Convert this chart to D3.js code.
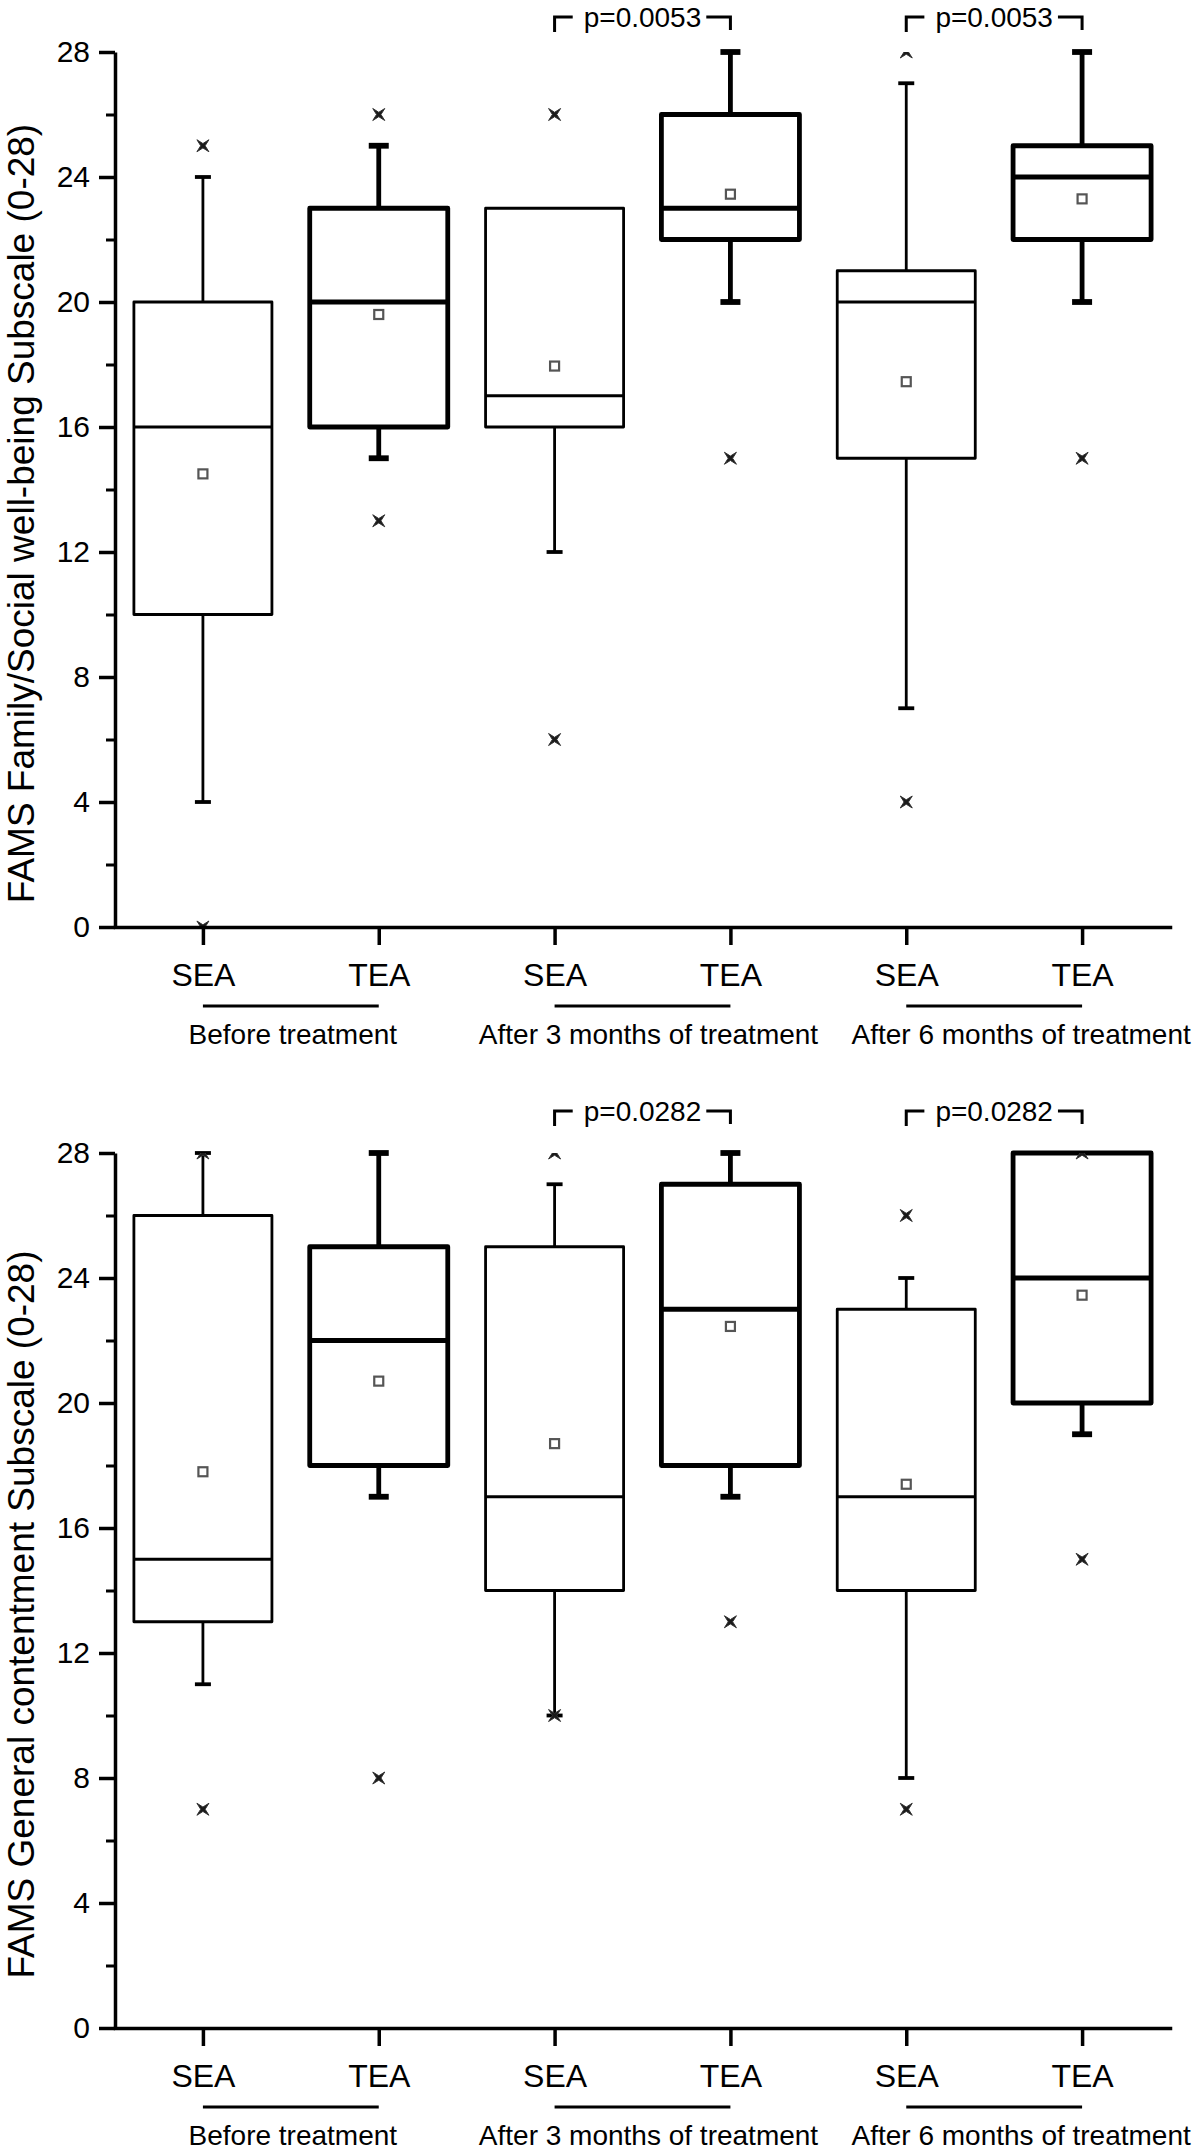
<!DOCTYPE html>
<html>
<head>
<meta charset="utf-8">
<script src="https://cdn.jsdelivr.net/npm/d3@7"></script>
<style>
  html, body { margin: 0; padding: 0; background: #fff; }
  svg { display: block; }
  text { font-family: "Liberation Sans", Arial, sans-serif; fill: #000; }
</style>
</head>
<body>
<script>
// ---------------- DATA ----------------
const categories = ["SEA", "TEA", "SEA", "TEA", "SEA", "TEA"];
const groupLabels = ["Before treatment", "After 3 months of treatment", "After 6 months of treatment"];
const yTicks = [0, 4, 8, 12, 16, 20, 24, 28];
const yMinorTicks = [2, 6, 10, 14, 18, 22, 26];
const axisTitles = ["FAMS Family/Social well-being Subscale (0-28)", "FAMS General contentment Subscale (0-28)"];
const pLabels = ["p=0.0053", "p=0.0282"];
const pPairs = [[2, 3], [4, 5]];

// Panel 1: Family/Social well-being
const famWhiskerLow  = [4, 15, 12, 20, 7, 20];
const famQ1          = [10, 16, 16, 22, 15, 22];
const famMedian      = [16, 20, 17, 23, 20, 24];
const famQ3          = [20, 23, 23, 26, 21, 25];
const famWhiskerHigh = [24, 25, 23, 28, 27, 28];
const famMean        = [14.5, 19.6, 17.95, 23.45, 17.45, 23.3];
const famOutliers    = [[0, 25], [13, 26], [6, 26], [15], [4, 28], [15]];

// Panel 2: General contentment
const genWhiskerLow  = [11, 17, 10, 17, 8, 19];
const genQ1          = [13, 18, 14, 18, 14, 20];
const genMedian      = [15, 22, 17, 23, 17, 24];
const genQ3          = [26, 25, 25, 27, 23, 28];
const genWhiskerHigh = [28, 28, 27, 28, 24, 28];
const genMean        = [17.8, 20.7, 18.7, 22.45, 17.4, 23.45];
const genOutliers    = [[7, 28], [8], [10, 28], [13], [7, 26], [15, 28]];

// ---------------- LAYOUT ----------------
const W = 1200, H = 2151;
const svg = d3.select("body").append("svg").attr("width", W).attr("height", H)
  .style("background", "#fff");

const panels = [
  { off: 0, title: axisTitles[0], p: pLabels[0], bracketY: 17,
    wl: famWhiskerLow, q1: famQ1, med: famMedian, q3: famQ3, wh: famWhiskerHigh, mean: famMean, out: famOutliers },
  { off: 1101, title: axisTitles[1], p: pLabels[1], bracketY: 1111,
    wl: genWhiskerLow, q1: genQ1, med: genMedian, q3: genQ3, wh: genWhiskerHigh, mean: genMean, out: genOutliers }
];

const x = d3.scalePoint().domain(d3.range(categories.length)).range([115, 1170]).padding(0.5);
const boxW = x.step() * 0.785;
const groupLabelShift = [2, 6, 27];
const font = '"Liberation Sans", Arial, sans-serif';

const starPath = (s, c) => `M${-s},${-s}L0,${-c}L${s},${-s}L${c},0L${s},${s}L0,${c}L${-s},${s}L${-c},0Z`;

panels.forEach((P, pi) => {
  const y = d3.scaleLinear().domain([0, 28]).range([927 + P.off, 52 + P.off]);
  const g = svg.append("g");

  const clipId = "clip" + pi;
  svg.append("clipPath").attr("id", clipId).attr("clipPathUnits", "userSpaceOnUse")
    .append("rect")
    .attr("x", 115).attr("y", y(28)).attr("width", 1170 - 115).attr("height", y(0) - y(28));

  // boxes
  categories.forEach((c, i) => {
    const cx = x(i);
    const tea = i % 2 === 1;
    const sw = tea ? 4.8 : 2.8;
    const capW = tea ? 20 : 16;
    const bg = g.append("g").attr("stroke", "#000").attr("fill", "none").attr("stroke-width", sw);

    if (P.wh[i] > P.q3[i]) {
      bg.append("line").attr("x1", cx).attr("x2", cx).attr("y1", y(P.q3[i])).attr("y2", y(P.wh[i]));
      bg.append("line").attr("x1", cx - capW / 2).attr("x2", cx + capW / 2)
        .attr("y1", y(P.wh[i])).attr("y2", y(P.wh[i])).attr("stroke-width", sw + 1);
    }
    if (P.wl[i] < P.q1[i]) {
      bg.append("line").attr("x1", cx).attr("x2", cx).attr("y1", y(P.q1[i])).attr("y2", y(P.wl[i]));
      bg.append("line").attr("x1", cx - capW / 2).attr("x2", cx + capW / 2)
        .attr("y1", y(P.wl[i])).attr("y2", y(P.wl[i])).attr("stroke-width", sw + 1);
    }
    bg.append("rect").attr("x", cx - boxW / 2).attr("y", y(P.q3[i]))
      .attr("width", boxW).attr("height", y(P.q1[i]) - y(P.q3[i]))
      .attr("stroke-linejoin", "round");
    bg.append("line").attr("x1", cx - boxW / 2).attr("x2", cx + boxW / 2)
      .attr("y1", y(P.med[i])).attr("y2", y(P.med[i]));

    // mean square
    g.append("rect").attr("x", cx - 4.5).attr("y", y(P.mean[i]) - 4.5)
      .attr("width", 9).attr("height", 9).attr("fill", "#fff")
      .attr("stroke", "#555").attr("stroke-width", 2.2);

    // outliers (clipped to plot area)
    const og = g.append("g").attr("clip-path", `url(#${clipId})`);
    P.out[i].forEach(v => {
      og.append("g").attr("transform", `translate(${cx},${y(v)})`)
        .append("path")
        .attr("d", starPath(6, 2.2))
        .attr("fill", "#1a1a1a").attr("stroke", "#333").attr("stroke-width", 1);
    });
  });

  // y axis major
  const yAx = g.append("g").attr("transform", "translate(115,0)")
    .call(d3.axisLeft(y).tickValues(yTicks).tickSize(16).tickSizeOuter(0).tickPadding(9));
  yAx.selectAll("path,line").attr("stroke", "#000").attr("stroke-width", 3.5);
  yAx.selectAll("text").attr("font-size", 30).attr("font-family", font).attr("fill", "#000");
  // y axis minor
  const yMin = g.append("g").attr("transform", "translate(115,0)")
    .call(d3.axisLeft(y).tickValues(yMinorTicks).tickSize(9).tickSizeOuter(0).tickFormat(""));
  yMin.select("path").remove();
  yMin.selectAll("line").attr("stroke", "#000").attr("stroke-width", 3);

  // x axis
  const xAx = g.append("g").attr("transform", `translate(0,${y(0)})`)
    .call(d3.axisBottom(x).tickSize(18).tickSizeOuter(0).tickFormat(i => categories[i]));
  xAx.selectAll("path,line").attr("stroke", "#000").attr("stroke-width", 3.5);
  xAx.select("path").attr("stroke-linecap", "square");
  xAx.selectAll("text").attr("font-size", 32).attr("font-family", font).attr("fill", "#000")
    .attr("y", 59).attr("dy", 0);

  // group lines and labels
  groupLabels.forEach((lab, k) => {
    const a = x(2 * k), b = x(2 * k + 1);
    g.append("line").attr("x1", a).attr("x2", b).attr("y1", y(0) + 79).attr("y2", y(0) + 79)
      .attr("stroke", "#000").attr("stroke-width", 3);
    g.append("text").attr("x", (a + b) / 2 + groupLabelShift[k]).attr("y", y(0) + 117)
      .attr("text-anchor", "middle").attr("font-size", 28).text(lab);
  });

  // y axis title
  g.append("text")
    .attr("transform", `translate(34,${(y(0) + y(28)) / 2 + 24}) rotate(-90)`)
    .attr("text-anchor", "middle").attr("font-size", 37).text(P.title);

  // p-value brackets
  pPairs.forEach(([a, b]) => {
    const xa = x(a), xb = x(b), mid = (xa + xb) / 2, by = P.bracketY;
    const t = g.append("text").attr("x", mid).attr("y", by + 10).attr("text-anchor", "middle")
      .attr("font-size", 28).text(P.p);
    const w = t.node().getComputedTextLength();
    g.append("path").attr("d", `M${xa},${by + 15}V${by}H${mid - w / 2 - 11}`)
      .attr("fill", "none").attr("stroke", "#000").attr("stroke-width", 3);
    g.append("path").attr("d", `M${mid + w / 2 + 5},${by}H${xb}V${by + 13}`)
      .attr("fill", "none").attr("stroke", "#000").attr("stroke-width", 3);
  });
});
</script>
</body>
</html>
